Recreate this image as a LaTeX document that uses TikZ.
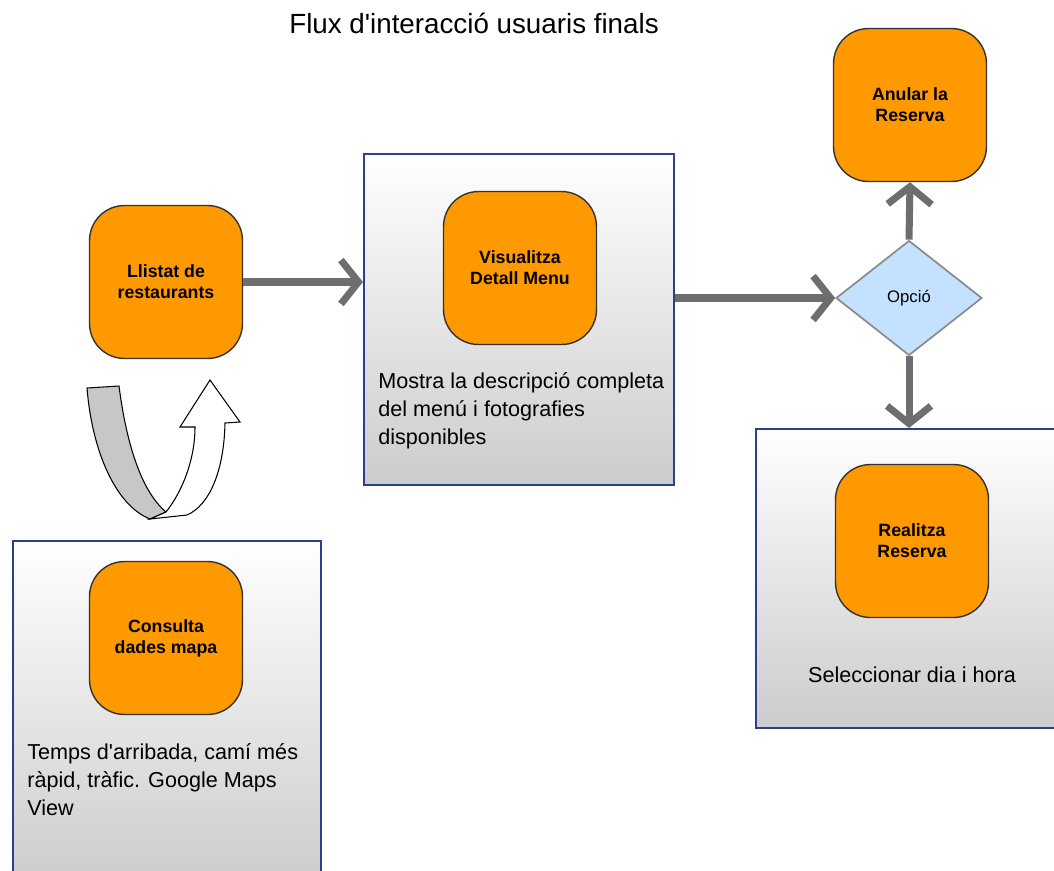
\documentclass[tikz,border=0pt]{standalone}
\usepackage{fontspec}
\setmainfont{Liberation Sans}
\newfontfamily\arial{Liberation Sans}
\usetikzlibrary{shapes.geometric,arrows.meta,calc}
\definecolor{taronja}{HTML}{FF9900}
\definecolor{blaumari}{HTML}{2B3F8F}
\definecolor{grisfletxa}{HTML}{6E6E6E}
\definecolor{blauclar}{HTML}{C4E1FF}
\tikzstyle{tasca} = [rectangle, rounded corners=0.7cm, draw=black!80, line width=0.8pt,
    fill=taronja, minimum width=3.06cm, minimum height=3.06cm, align=center,
    font=\arial\fontsize{10.1}{12}\selectfont\bfseries]
\tikzstyle{caixa} = [rectangle, draw=blaumari, line width=1.2pt, top color=white,
    bottom color=black!20, anchor=north west, inner sep=0]
\tikzstyle{fletxa} = [draw=grisfletxa, line width=4pt, -{Straight Barb[length=10pt,width=25pt]}]
\tikzstyle{descripcio} = [inner sep=0, align=left, font=\arial\fontsize{12.3}{15.9}\selectfont]

\begin{document}
\begin{tikzpicture}[x=0.02cm, y=-0.02cm]
    \useasboundingbox (0,0) rectangle (1054,870);
    \clip (0,0) rectangle (1054,870);
    % Title
    \node[font=\arial\fontsize{15.8}{18}\selectfont] (titol) at (474,23)
        {Flux d'interacció usuaris finals};
    % the three boxes
    \node[caixa, minimum width=6.2cm, minimum height=6.62cm] (mig) at (363,153) {};% middle box
    \node[caixa, minimum width=6.16cm, minimum height=6.9cm] (esq) at (12,540) {};% left box
    \node[caixa, minimum width=6.18cm, minimum height=5.98cm] (dreta) at (755,428) {};% right box
    % the steps
    \node[tasca] (llistat) at (166,282) {Llistat de\\restaurants};
    \node[tasca] (visual) at (520,268) {Visualitza\\Detall Menu};
    \node[tasca] (consulta) at (166,638) {Consulta\\dades mapa};
    \node[tasca] (anular) at (910,105) {Anular la\\Reserva};
    \node[tasca] (realitza) at (912,541) {Realitza\\Reserva};
    \node[diamond, draw=black!45, line width=1pt, fill=blauclar, inner sep=0,
        minimum width=2.92cm, minimum height=2.3cm,
        font=\arial\fontsize{9.5}{11}\selectfont] (opcio) at (909,298) {Opció};% the choice
    % texts in the boxes
    \node[descripcio, anchor=north west] (descmig) at (378,372)
        {Mostra la descripció completa\\del menú i fotografies\\disponibles};
    \node[descripcio, anchor=north west] (descesq) at (27,743)
        {Temps d'arribada, camí més\\ràpid, tràfic. Google Maps\\View};
    \node[descripcio] (descdreta) at (912,675) {Seleccionar dia i hora};
    % arrows
    \draw[fletxa] (llistat.east) -- (mig.west |- llistat.east);
    \draw[fletxa] (mig.east |- opcio.west) -- (opcio.west);
    \draw[fletxa] (opcio.north) -- (anular.south);
    \draw[fletxa] (opcio.south) -- (opcio.south |- dreta.north);
    % curved arrow between the map and the list
    \filldraw[fill=black!22, line width=0.6pt] (87,388) -- (119,386)
        .. controls (126,440) and (140,490) .. (166,512) -- (150,519)
        .. controls (115,505) and (92,450) .. (87,388) -- cycle;% grey back
    \filldraw[fill=white, line width=0.6pt] (150,519) -- (166,512)
        .. controls (182,492) and (195,460) .. (195,427) -- (180,427)
        -- (210,380) -- (240,422) -- (225,423)
        .. controls (224,470) and (210,505) .. (187,515) -- cycle;% white front
\end{tikzpicture}
\end{document}
